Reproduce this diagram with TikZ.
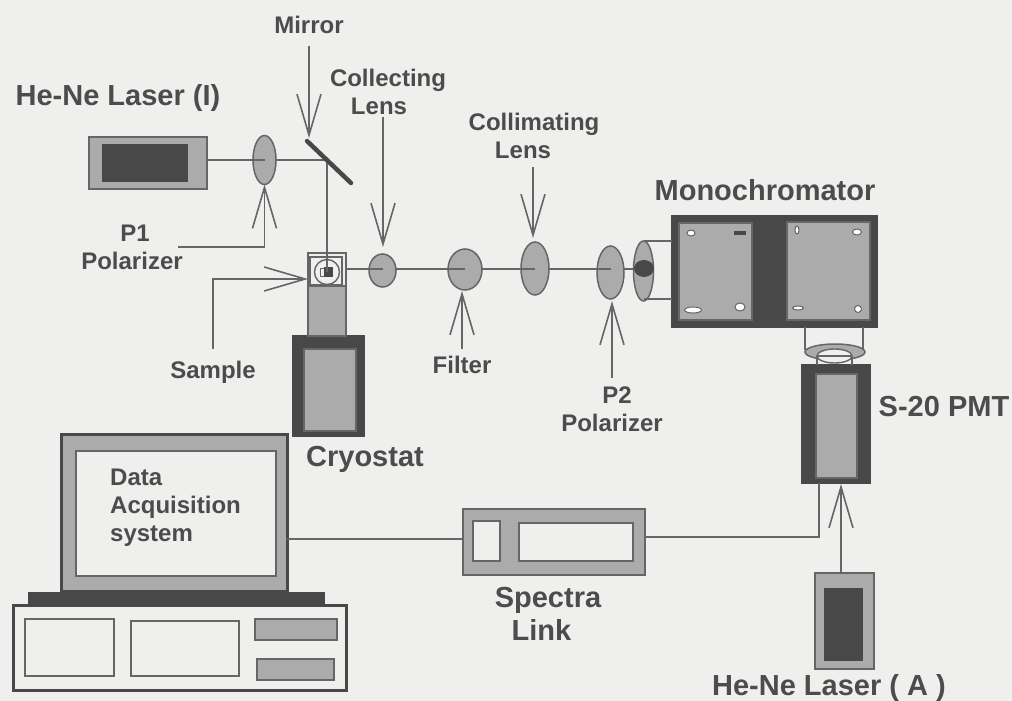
\documentclass[tikz,border=0pt]{standalone}
\usepackage{fontspec}
\setmainfont{Liberation Sans}
\usepackage{tikz}
\usetikzlibrary{arrows.meta,positioning,shapes.geometric,calc}
\definecolor{cpaper}{HTML}{EFEFEE}
\definecolor{cdark}{HTML}{484848}
\definecolor{cline}{HTML}{666666}
\definecolor{cfill}{HTML}{ABABAB}
\definecolor{ctext}{HTML}{4C4C4C}
\tikzset{
  box/.style={draw=cline, rectangle, inner sep=0pt, outer sep=0pt, line width=1.4pt, fill=cfill},
  blockn/.style={box, draw=cdark, fill=cdark},
  whiten/.style={box, fill=cpaper},
  greyn/.style={box},
  lensn/.style={draw=cline, ellipse, inner sep=0pt, outer sep=0pt, line width=1.5pt, fill=cfill},
  holen/.style={ellipse, draw=cline, line width=1pt, fill=white, inner sep=0pt, outer sep=0pt},
  beam/.style={draw=cline, line width=1.6pt},
  wire/.style={draw=cline, line width=1.6pt},
  pointer/.style={draw=cline, line width=1.6pt, -{Straight Barb[length=41pt,width=24pt,line width=1.6pt]}},
  lbl/.style={font=\fontsize{24}{28}\selectfont\bfseries, text=ctext, align=center, inner sep=0pt},
  biglbl/.style={font=\fontsize{29}{33}\selectfont\bfseries, text=ctext, align=center, inner sep=0pt},
}
\begin{document}
\begin{tikzpicture}[x=1pt,y=-1pt]
\fill[cpaper] (0,0) rectangle (1012,701);
\useasboundingbox (0,0) rectangle (1012,701);
\coordinate (axis) at (0,269);
% laser I and first polarizer
\node[greyn, minimum width=118pt, minimum height=52pt] (laserI) at (148,163) {};
\node[blockn, minimum width=84pt, minimum height=36pt] (laserIcore) at (145,163) {};
\node[lensn, minimum width=23pt, minimum height=49pt] (pone) at (264.5,160) {};
\coordinate (mirrorA) at (307,141);
\coordinate (mirrorB) at (351,183);
\coordinate (mirrorhit) at (327,160);
\coordinate (ponefoot) at (178,247);
\coordinate (mirrorfoot) at (309,46);
% cryostat
\node[blockn, minimum width=71pt, minimum height=100pt] (cryo) at (328.5,386) {};
\node[greyn, minimum width=52pt, minimum height=82pt] (cryocore) at (330,390) {};
\node[greyn, minimum width=38pt, minimum height=50pt] (neck) at (327,311) {};
\node[whiten, minimum width=38pt, minimum height=33pt] (head) at (327,269.5) {};
\node[whiten, minimum width=32pt, minimum height=28pt] (headin) at (326,271) {};
\node[whiten, circle, minimum size=25pt] (holder) at (327,272) {};
\node[whiten, line width=1pt, minimum width=12pt, minimum height=8pt] (sample) at (326,272) {};
\node[blockn, minimum width=7pt, minimum height=8pt] (samplecore) at (328.5,272) {};
\coordinate (samplefoot) at (213,349);
% lenses on the axis
\node[lensn, minimum width=27pt, minimum height=33pt] (collect) at (382.5,270.5) {};
\node[lensn, minimum width=34pt, minimum height=41pt] (filter) at (465,269.5) {};
\node[lensn, minimum width=28pt, minimum height=53pt] (collim) at (535,268.5) {};
\node[lensn, minimum width=27pt, minimum height=53pt] (ptwo) at (610.5,272.5) {};
\node[lensn, minimum width=20pt, minimum height=60pt] (entry) at (643.5,271) {};
\node[ellipse, fill=cdark, inner sep=0pt, outer sep=0pt, minimum width=20pt, minimum height=17pt] (entryspot) at (644,268.5) {};
% monochromator
\node[blockn, minimum width=205pt, minimum height=111pt] (mono) at (774.5,271.5) {};
\node[greyn, minimum width=73pt, minimum height=97pt] (monoL) at (715.5,271.5) {};
\node[greyn, minimum width=83pt, minimum height=98pt] (monoR) at (828.5,271) {};
\node[holen, minimum width=8pt, minimum height=6pt] (holeA) at (691,233) {};
\node[blockn, minimum width=10pt, minimum height=2pt] (holeB) at (740,233) {};
\node[holen, minimum width=17pt, minimum height=6pt] (holeC) at (693,310) {};
\node[holen, minimum width=10pt, minimum height=8pt] (holeD) at (740,307) {};
\node[holen, minimum width=4pt, minimum height=8pt] (holeE) at (797,230) {};
\node[holen, minimum width=9pt, minimum height=6pt] (holeF) at (857,232) {};
\node[holen, minimum width=11pt, minimum height=4pt] (holeG) at (798,308) {};
\node[holen, minimum width=7pt, minimum height=7pt] (holeH) at (858,309) {};
% PMT
\node[lensn, minimum width=60pt, minimum height=16pt] (pmtlens) at (835,352) {};
\node[holen, draw=cline, fill=cpaper, line width=1.4pt, minimum width=35pt, minimum height=14pt] (pmtin) at (834.5,356) {};
\node[blockn, minimum width=68pt, minimum height=118pt] (pmt) at (836,424) {};
\node[greyn, minimum width=41pt, minimum height=104pt] (pmtcore) at (836.5,426) {};
% laser A
\node[greyn, minimum width=59pt, minimum height=96pt] (laserA) at (844.5,621) {};
\node[blockn, minimum width=37pt, minimum height=71pt] (laserAcore) at (843.5,624.5) {};
% spectra link
\node[greyn, minimum width=182pt, minimum height=66pt] (link) at (554,542) {};
\node[whiten, minimum width=27pt, minimum height=40pt] (linkA) at (486.5,541) {};
\node[whiten, minimum width=114pt, minimum height=38pt] (linkB) at (576,542) {};
% computer
\node[greyn, draw=cdark, line width=3pt, minimum width=226pt, minimum height=157pt] (monitor) at (174,512.5) {};
\node[whiten, minimum width=200pt, minimum height=125pt] (screen) at (176,513.5) {};
\node[blockn, minimum width=295pt, minimum height=14pt] (plinth) at (176.5,600) {};
\node[whiten, draw=cdark, line width=3pt, minimum width=333pt, minimum height=85pt] (tower) at (179.5,647.5) {};
\node[whiten, minimum width=89pt, minimum height=57pt] (slotA) at (69.5,647.5) {};
\node[whiten, minimum width=108pt, minimum height=55pt] (slotB) at (185,648.5) {};
\node[greyn, minimum width=82pt, minimum height=21pt] (slotC) at (296,629.5) {};
\node[greyn, minimum width=77pt, minimum height=21pt] (slotD) at (295.5,669.5) {};
% beam
\draw[beam] (laserI.east |- pone.center) -- (pone.center);
\draw[beam] (pone.east) -- (mirrorhit);
\draw[beam] (mirrorhit) -- (holder.center);
\draw[cdark, line width=4.5pt, line cap=round] (mirrorA) -- (mirrorB);
\foreach \a/\b in {head/collect,collect/filter,filter/collim,collim/ptwo}
  \draw[beam] (\a.east |- axis) -- (\b.center |- axis);
\draw[beam] (ptwo.east |- axis) -- (entryspot.west |- axis);
\draw[wire] (entry.north) -- (entry.north -| mono.west);
\draw[wire] (644,299) -- (mono.west |- 644,299);
\draw[wire] (805,327) -- (805,350);
\draw[wire] (863,327) -- (863,350);
\draw[wire] (817,356) -- (817,365);
\draw[wire] (852,356) -- (852,365);
\draw[wire] (pmtin.west) -- (pmtin.east);
% cables
\draw[wire] (monitor.east |- 0,539) -- (link.west |- 0,539);
\draw[wire] (link.east |- 0,537) -- (819,537) -- (819,483);
% pointers
\draw[pointer] (mirrorfoot) -- (309,138);
\draw[pointer] (ponefoot) -| (pone.south);
\draw[pointer] (samplefoot) |- (head.west |- 0,279);
\draw[pointer] (383,117) -- (383,247);
\draw[pointer] (462,349) -- (462,291);
\draw[pointer] (533,167) -- (533,238);
\draw[pointer] (612,378) -- (612,301);
\draw[pointer] (841,573) -- (841,484);
% labels
\node[biglbl] (laserItxt) at (118,98) {He-Ne Laser (I)};
\node[lbl] (mirrortxt) at (309,25) {Mirror};
\node[lbl] (collecttxt) at (388,92) {Collecting\\Lens\hspace*{18pt}};
\node[lbl] (collimtxt) at (534,136) {Collimating\\Lens\hspace*{22pt}};
\node[lbl] (ponetxt) at (132,247) {\hspace*{6pt}P1\\Polarizer};
\node[lbl] (ptwotxt) at (612,409) {\hspace*{10pt}P2\\Polarizer};
\node[lbl] (sampletxt) at (213,372) {Sample};
\node[lbl] (filtertxt) at (462,365) {Filter};
\node[biglbl] (cryotxt) at (365,459) {Cryostat};
\node[biglbl] (monotxt) at (765,190) {Monochromator};
\node[biglbl] (pmttxt) at (944,407) {S-20 PMT};
\node[biglbl] (linktxt) at (548,614) {Spectra\\Link\hspace*{13pt}};
\node[biglbl] (laserAtxt) at (829,688) {He-Ne Laser ( A )};
\node[lbl, align=left, anchor=west] (screentxt) at (110,508) {Data\\Acquisition\\system};
\end{tikzpicture}
\end{document}
